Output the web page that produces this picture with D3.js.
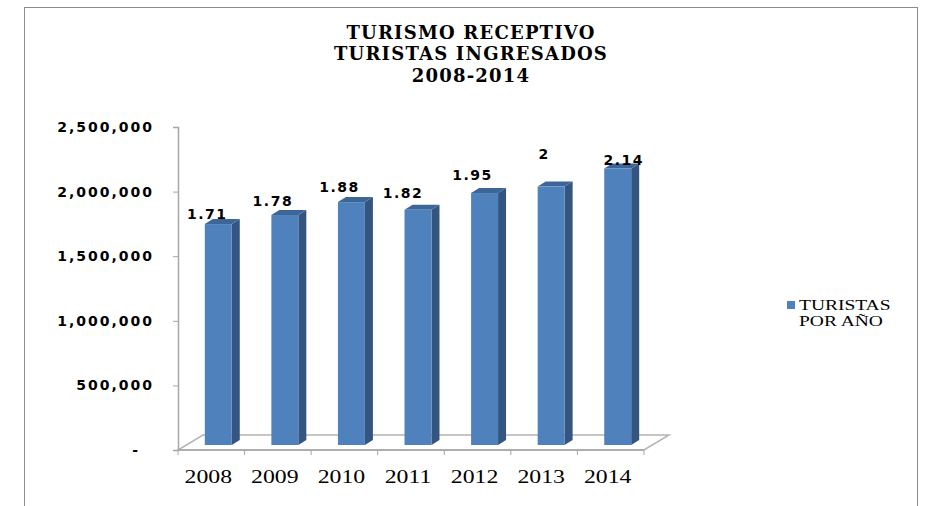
<!DOCTYPE html>
<html>
<head>
<meta charset="utf-8">
<script src="https://cdn.jsdelivr.net/npm/d3@7"></script>
<style>
  body { margin: 0; background: #fff; }
</style>
</head>
<body>
<div id="turismo_chart"></div>
<script>
// datos del grafico
var years = ["2008", "2009", "2010", "2011", "2012", "2013", "2014"];
var turistas = [1710000, 1780000, 1880000, 1820000, 1950000, 2000000, 2140000];
var yTicks = [0, 500000, 1000000, 1500000, 2000000, 2500000];
var titleLines = ["TURISMO RECEPTIVO", "TURISTAS INGRESADOS", "2008-2014"];
var legendLines = ["TURISTAS", "POR AÑO"];

// the data labels were dragged by hand in the original, keep the nudges apart
var labelNudge = [[-4, -5], [-5, -9], [-5, -10], [-8, -12], [-5, -13], [0, -28], [13, -4]];

var W = 927, H = 506;
var depth = {dx: 25, dy: -15};     // floor depth
var barDepth = {dx: 8, dy: -5};     // bar own depth
var barShift = {dx: 7, dy: -5};     // where the bar sits on the floor

var svg = d3.select("#turismo_chart")
  .append("svg")
    .attr("width", W)
    .attr("height", H);

// marco
svg.append("rect")
  .attr("x", 24.5).attr("y", 7.5)
  .attr("width", 893).attr("height", 530)
  .attr("fill", "none")
  .attr("stroke", "#8c8c8c")
  .attr("stroke-width", 1);

// titulo
svg.append("g").selectAll("text")
  .data(titleLines)
  .enter().append("text")
    .attr("x", 471)
    .attr("y", function(d, i) { return 38.5 + i * 21.7; })
    .attr("text-anchor", "middle")
    .style("font-family", "'DejaVu Serif'")
    .style("font-weight", "bold")
    .style("font-size", "18px")
    .style("letter-spacing", "1.2px")
    .text(function(d) { return d; });

// scales
var x = d3.scaleBand()
  .domain(years)
  .range([178, 644])
  .paddingInner(0.595)
  .paddingOuter(0.2975);

var xStep = d3.scaleBand()
  .domain(years)
  .range([178, 644]);

var y = d3.scaleLinear()
  .domain([0, 2500000])
  .range([450, 127]);

// piso 3D
var floor = [[178, 450], [644, 450], [644 + depth.dx, 450 + depth.dy], [178 + depth.dx, 450 + depth.dy]];
svg.append("path")
  .attr("d", d3.line()(floor) + "Z")
  .attr("fill", "#fff")
  .attr("stroke", "#b4b4b4")
  .attr("stroke-width", 1.5);

// Y axis
var yAxis = svg.append("g")
  .attr("transform", "translate(178,0)")
  .call(d3.axisLeft(y)
    .tickValues(yTicks)
    .tickSize(5)
    .tickFormat(function(d) { return d === 0 ? "-" : d3.format(",")(d); }));
yAxis.select(".domain").attr("stroke", "#a6a6a6").attr("stroke-width", 1.5);
yAxis.selectAll(".tick line").attr("stroke", "#a6a6a6");
yAxis.selectAll(".tick text")
  .attr("x", function(d) { return d === 0 ? -38 : -24; })
  .style("font-family", "'DejaVu Sans'")
  .style("font-weight", "bold")
  .style("font-size", "14px")
  .style("letter-spacing", "2px")
  .attr("fill", "#000");

// X axis (front edge of the floor)
var xAxis = svg.append("g")
  .attr("transform", "translate(0,450)");
xAxis.append("line")
  .attr("x1", 178).attr("x2", 644)
  .attr("stroke", "#a6a6a6").attr("stroke-width", 1.5);
xAxis.selectAll(".tk")
  .data(years.concat(["end"]))
  .enter().append("line")
    .attr("class", "tk")
    .attr("x1", function(d) { return d === "end" ? 644 : xStep(d); })
    .attr("x2", function(d) { return d === "end" ? 644 : xStep(d); })
    .attr("y1", 0).attr("y2", 5)
    .attr("stroke", "#a6a6a6");
xAxis.selectAll(".lbl")
  .data(years)
  .enter().append("text")
    .attr("class", "lbl")
    .attr("transform", function(d) {
      return "translate(" + (xStep(d) + xStep.bandwidth() / 2 - 3) + ",33) scale(1.25,1)";
    })
    .attr("text-anchor", "middle")
    .style("font-family", "'Liberation Serif'")
    .style("font-size", "19px")
    .text(function(d) { return d; });

// barras 3D
var bars = svg.append("g").selectAll("g")
  .data(turistas)
  .enter().append("g");

function faces(d, i) {
  var fx = x(years[i]) + barShift.dx;
  var top = y(d) + barShift.dy;
  var bot = y(0) + barShift.dy;
  var w = x.bandwidth();
  return {fx: fx, top: top, bot: bot, w: w};
}

bars.append("path")
  .attr("d", function(d, i) {
    var f = faces(d, i);
    return d3.line()([[f.fx + f.w, f.top], [f.fx + f.w + barDepth.dx, f.top + barDepth.dy],
      [f.fx + f.w + barDepth.dx, f.bot + barDepth.dy], [f.fx + f.w, f.bot]]) + "Z";
  })
  .attr("fill", "#34557f");

bars.append("path")
  .attr("d", function(d, i) {
    var f = faces(d, i);
    return d3.line()([[f.fx, f.top], [f.fx + barDepth.dx, f.top + barDepth.dy],
      [f.fx + f.w + barDepth.dx, f.top + barDepth.dy], [f.fx + f.w, f.top]]) + "Z";
  })
  .attr("fill", "#3d6698");

bars.append("rect")
  .attr("x", function(d, i) { return faces(d, i).fx; })
  .attr("y", function(d, i) { return faces(d, i).top; })
  .attr("width", x.bandwidth())
  .attr("height", function(d, i) { var f = faces(d, i); return f.bot - f.top; })
  .attr("fill", "#4f81bd");

// etiquetas de valor (en millones)
bars.append("text")
  .attr("x", function(d, i) { return xStep(years[i]) + xStep.bandwidth() / 2 + labelNudge[i][0]; })
  .attr("y", function(d, i) { return y(d) + barShift.dy + labelNudge[i][1]; })
  .attr("text-anchor", "middle")
  .style("font-family", "'DejaVu Sans'")
  .style("font-weight", "bold")
  .style("font-size", "14px")
  .style("letter-spacing", "1.5px")
  .text(function(d) { return String(+(d / 1e6).toFixed(2)); });

// leyenda
var legend = svg.append("g").attr("transform", "translate(787,301)");
legend.append("rect")
  .attr("width", 8).attr("height", 8)
  .attr("fill", "#4f81bd");
legend.selectAll("text")
  .data(legendLines)
  .enter().append("text")
    .attr("transform", function(d, i) { return "translate(12," + (9 + i * 16) + ") scale(1.3,1)"; })
    .style("font-family", "'Liberation Serif'")
    .style("font-size", "15px")
    .text(function(d) { return d; });
</script>
</body>
</html>
